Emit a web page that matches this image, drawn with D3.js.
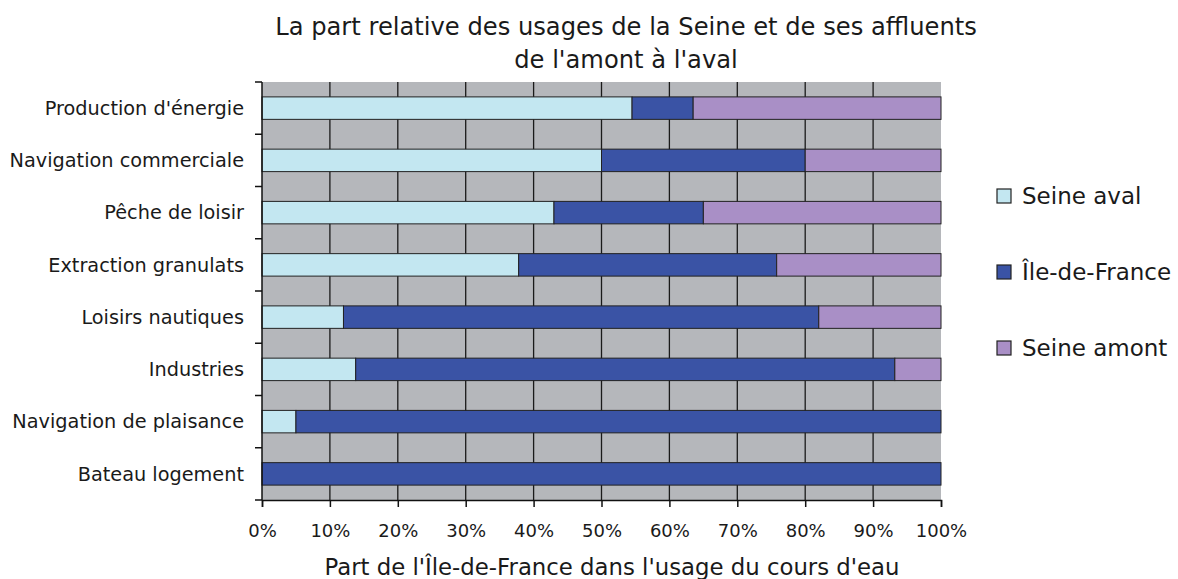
<!DOCTYPE html>
<html>
<head>
<meta charset="utf-8">
<script src="https://cdn.jsdelivr.net/npm/d3@7"></script>
<style>
  body { margin: 0; background: #fff; }
  svg text { font-family: "DejaVu Sans", sans-serif; fill: #1a1a1a; }
</style>
</head>
<body>
<svg id="chart"></svg>
<script>
// categories, top to bottom
const categories = [
  "Production d'énergie",
  "Navigation commerciale",
  "Pêche de loisir",
  "Extraction granulats",
  "Loisirs nautiques",
  "Industries",
  "Navigation de plaisance",
  "Bateau logement"
];
const seriesNames = ["Seine aval", "Île-de-France", "Seine amont"];
const seineAval   = [54.5, 50, 43, 37.8, 12, 13.8, 5, 0];
const ileDeFrance = [9, 30, 22, 38, 70, 79.4, 95, 100];
const seineAmont  = [36.5, 20, 35, 24.2, 18, 6.8, 0, 0];
const xTicks = [0, 10, 20, 30, 40, 50, 60, 70, 80, 90, 100];
const colors = ["#c3e7f1", "#3a53a5", "#a98fc6"];

const width = 1178, height = 579;
const margin = {top: 82, right: 237, bottom: 79, left: 262};
const innerW = width - margin.left - margin.right;
const innerH = height - margin.top - margin.bottom;

const svg = d3.select('#chart')
  .attr('width', width)
  .attr('height', height);

const rows = categories.map((c, i) => ({
  cat: c,
  "Seine aval": seineAval[i],
  "Île-de-France": ileDeFrance[i],
  "Seine amont": seineAmont[i]
}));
const stacked = d3.stack().keys(seriesNames)(rows);

const x = d3.scaleLinear().domain([0, 100]).range([0, innerW]);
const y = d3.scaleBand().domain(categories).range([0, innerH]).paddingInner(0.57).paddingOuter(0.285);
const yTickPos = d3.range(categories.length + 1).map(i => innerH * i / categories.length);

const chart = svg.append('g').attr('transform', `translate(${margin.left},${margin.top})`);

/* plot background */
chart.append('rect')
  .attr('width', innerW).attr('height', innerH)
  .attr('fill', '#b5b7bb');

/* vertical grid */
chart.append('g')
  .selectAll('line')
  .data(xTicks.slice(1, -1))
  .join('line')
  .attr('x1', d => x(d)).attr('x2', d => x(d))
  .attr('y1', 0).attr('y2', innerH)
  .attr('stroke', '#1a1a1a').attr('stroke-width', 1.3);

/* bars */
chart.append('g')
  .selectAll('g')
  .data(stacked)
  .join('g')
  .attr('fill', (d, i) => colors[i])
  .selectAll('rect')
  .data(d => d)
  .join('rect')
  .filter(d => d[1] - d[0] > 0)
  .attr('x', d => x(d[0]))
  .attr('y', d => y(d.data.cat))
  .attr('width', d => x(d[1]) - x(d[0]))
  .attr('height', y.bandwidth())
  .attr('stroke', '#222')
  .attr('stroke-width', 1);

/* axes */
chart.append('g')
  .attr('transform', `translate(0,${innerH})`)
  .call(d3.axisBottom(x).tickValues(xTicks).tickFormat(d => d + '%').tickSize(7).tickPadding(17))
  .call(g => g.select('.domain').attr('stroke', '#111').attr('stroke-width', 1.5))
  .call(g => g.selectAll('.tick line').attr('stroke', '#111').attr('stroke-width', 1.5))
  .call(g => g.selectAll('.tick text').style('font-size', '18px').style('font-family', '"DejaVu Sans", sans-serif').attr('fill', '#1a1a1a'));

const yAxis = chart.append('g');
yAxis.append('line')
  .attr('x1', 0).attr('x2', 0).attr('y1', 0).attr('y2', innerH)
  .attr('stroke', '#111').attr('stroke-width', 1.5);
yAxis.selectAll('.ytick')
  .data(yTickPos)
  .join('line')
  .attr('x1', -7).attr('x2', 0)
  .attr('y1', d => d).attr('y2', d => d)
  .attr('stroke', '#111').attr('stroke-width', 1.5);
yAxis.selectAll('.ylabel')
  .data(categories)
  .join('text')
  .attr('x', -18)
  .attr('y', d => y(d) + y.bandwidth() / 2)
  .attr('dy', '0.35em')
  .attr('text-anchor', 'end')
  .style('font-size', '19.3px')
  .text(d => d);

/* titles */
svg.append('text')
  .attr('x', 626).attr('y', 35)
  .attr('text-anchor', 'middle')
  .style('font-size', '24.2px')
  .text('La part relative des usages de la Seine et de ses affluents');
svg.append('text')
  .attr('x', 626).attr('y', 68)
  .attr('text-anchor', 'middle')
  .style('font-size', '24.2px')
  .text("de l'amont à l'aval");
svg.append('text')
  .attr('x', 612).attr('y', 575)
  .attr('text-anchor', 'middle')
  .style('font-size', '22.8px')
  .text("Part de l'Île-de-France dans l'usage du cours d'eau");

/* legend */
const legend = svg.append('g').attr('transform', 'translate(997,186)');
const items = legend.selectAll('g')
  .data(seriesNames)
  .join('g')
  .attr('transform', (d, i) => `translate(0,${i * 76})`);
items.append('rect')
  .attr('width', 14).attr('height', 14).attr('y', 3)
  .attr('fill', (d, i) => colors[i])
  .attr('stroke', '#222').attr('stroke-width', 1.2);
items.append('text')
  .attr('x', 25).attr('y', 10)
  .attr('dy', '0.35em')
  .style('font-size', '23px')
  .text(d => d);
</script>
</body>
</html>
